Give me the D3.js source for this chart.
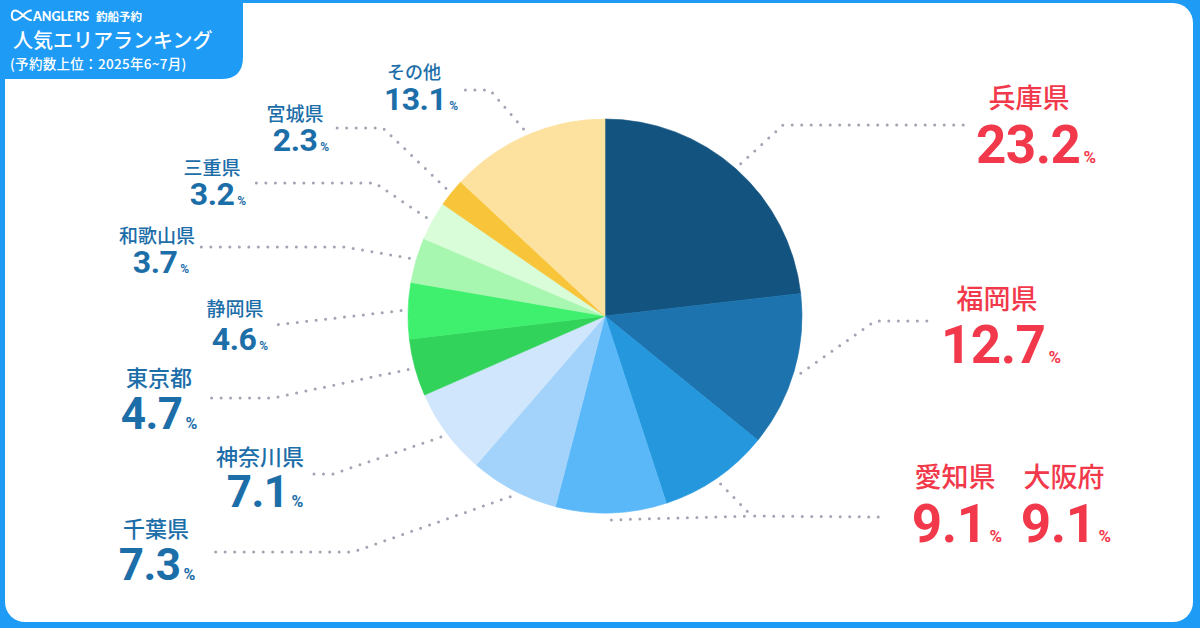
<!DOCTYPE html>
<html>
<head>
<meta charset="utf-8">
<script src="https://cdn.jsdelivr.net/npm/d3@7"></script>
<style>
  html, body { margin: 0; padding: 0; background: #1e9bf5; }
  svg { display: block; }
</style>
</head>
<body>
<svg id="chart" width="1200" height="628"></svg>
<script>
// ---- data ----
const categories = ["兵庫県", "福岡県", "愛知県", "大阪府", "千葉県", "神奈川県", "東京都", "静岡県", "和歌山県", "三重県", "宮城県", "その他"];
const shares = [23.2, 12.7, 9.1, 9.1, 7.3, 7.1, 4.7, 4.6, 3.7, 3.2, 2.3, 13.1];
const sliceColors = ["#12537f", "#1c73ae", "#2497dd", "#5bb8f8", "#a3d3fb", "#cfe6fc", "#32d35a", "#3ff06e", "#a8f7b0", "#d9fcd9", "#f8c53a", "#fde29f"];
const brand = "ANGLERS";
const brandSub = "釣船予約";
const title = "人気エリアランキング";
const subtitle = "(予約数上位：2025年6~7月)";

// ---- layout (positions / styles) ----
const layout = [
  {nx:1029, ny:108, vx:1036, vy:163, ns:27, vs:53, ps:17, red:true,  pts:[[783,125],[965,125]]},
  {nx:997,  ny:309, vx:1001, vy:363, ns:27, vs:53, ps:17, red:true,  pts:[[875,321],[935,321]]},
  {nx:955,  ny:487, vx:957,  vy:542, ns:27, vs:53, ps:17, red:true,  pts:[[752,516],[885,517]]},
  {nx:1064, ny:487, vx:1066, vy:542, ns:27, vs:53, ps:17, red:true,  pts:[[752,516]]},
  {nx:156,  ny:537, vx:157,  vy:580, ns:22, vs:44, ps:16, red:false, pts:[[353,552],[207,552]]},
  {nx:260,  ny:465, vx:265,  vy:507, ns:22, vs:44, ps:16, red:false, pts:[[333,474],[308,474]]},
  {nx:159,  ny:386, vx:159,  vy:429, ns:22, vs:44, ps:16, red:false, pts:[[273,398],[207,398]]},
  {nx:235,  ny:316, vx:240,  vy:350, ns:19, vs:32, ps:12, red:false, pts:[[275,325]]},
  {nx:157,  ny:243, vx:161,  vy:273, ns:19, vs:32, ps:12, red:false, pts:[[345,247],[200,247]]},
  {nx:212,  ny:175, vx:218,  vy:205, ns:19, vs:32, ps:12, red:false, pts:[[375,183],[250,183]]},
  {nx:295,  ny:121, vx:301,  vy:151, ns:19, vs:32, ps:12, red:false, pts:[[383,128],[335,128]]},
  {nx:414,  ny:79,  vx:421,  vy:110, ns:18, vs:32, ps:12, red:false, pts:[[490,90],[461,90]]}
];

const W = 1200, H = 628;
const cx = 605, cy = 316, R = 197;
const jpFont = "'Noto Sans CJK JP', 'Noto Sans', sans-serif";
const numFont = "Roboto, 'Noto Sans', sans-serif";
const RED = "#f2394b", BLUE = "#1c6ea9";

const svg = d3.select("#chart");

// background
svg.append("rect").attr("width", W).attr("height", H).attr("fill", "#1e9bf5");
svg.append("rect").attr("x", 5).attr("y", 3).attr("width", 1188).attr("height", 619)
  .attr("rx", 20).attr("fill", "#ffffff");

// header tab
const tabW = 243, tabH = 79, tr = 22;
svg.append("path")
  .attr("d", `M0,0 H${tabW} V${tabH - tr} Q${tabW},${tabH} ${tabW - tr},${tabH} H0 Z`)
  .attr("fill", "#1e9bf5");

// fish logo
svg.append("path")
  .attr("d", "M31,10.5 C25,10.5 21,20 15,20 C11,20 10.5,10.5 15,10.5 C21,10.5 25,20 31,20")
  .attr("fill", "none").attr("stroke", "#fff").attr("stroke-width", 2).attr("stroke-linecap", "round");

const head = svg.append("g").attr("fill", "#fff");
head.append("text").attr("x", 33).attr("y", 20.5)
  .attr("font-family", "Lato, Roboto, sans-serif").attr("font-weight", 900)
  .attr("font-size", 12.5).attr("letter-spacing", 0).text(brand);
head.append("text").attr("x", 96).attr("y", 20.5)
  .attr("font-family", jpFont).attr("font-weight", 700).attr("font-size", 11.5).text(brandSub);
head.append("text").attr("x", 13).attr("y", 48)
  .attr("font-family", jpFont).attr("font-weight", 500).attr("font-size", 20).text(title);
head.append("text").attr("x", 10).attr("y", 68.5)
  .attr("font-family", jpFont).attr("font-weight", 500).attr("font-size", 13.5).attr("letter-spacing", 0.3).text(subtitle);

// pie
const pie = d3.pie().value(d => d).sort(null);
const arcs = pie(shares);
const arc = d3.arc().innerRadius(0).outerRadius(R);
const outerArc = d3.arc().innerRadius(R + 7).outerRadius(R + 7);

const gPie = svg.append("g").attr("transform", `translate(${cx},${cy})`);
gPie.selectAll("path").data(arcs).join("path")
  .attr("d", arc)
  .attr("fill", (d, i) => sliceColors[i])
  .attr("stroke", (d, i) => sliceColors[i])
  .attr("stroke-width", 0.6);

// leader lines
const line = d3.line();
const gLead = svg.append("g");
arcs.forEach((a, i) => {
  const c = outerArc.centroid(a);
  const start = [cx + c[0], cy + c[1]];
  const pts = [start].concat(layout[i].pts);
  gLead.append("path")
    .attr("d", line(pts))
    .attr("fill", "none")
    .attr("stroke", "#a3a3b4")
    .attr("stroke-width", 3)
    .attr("stroke-linecap", "round")
    .attr("stroke-dasharray", "0 9.5");
});

// labels
const gLab = svg.append("g");
categories.forEach((name, i) => {
  const L = layout[i];
  const col = L.red ? RED : BLUE;
  gLab.append("text")
    .attr("x", L.nx).attr("y", L.ny)
    .attr("text-anchor", "middle")
    .attr("font-family", jpFont).attr("font-weight", 500)
    .attr("font-size", L.ns).attr("fill", col)
    .text(name);
  const t = gLab.append("text")
    .attr("x", L.vx).attr("y", L.vy)
    .attr("text-anchor", "middle")
    .attr("font-family", numFont).attr("font-weight", 700)
    .attr("fill", col);
  t.append("tspan").attr("font-size", L.vs).attr("letter-spacing", -0.5).text(shares[i].toFixed(1));
  t.append("tspan").attr("font-size", L.ps).attr("dx", 3).text("%");
});
</script>
</body>
</html>
